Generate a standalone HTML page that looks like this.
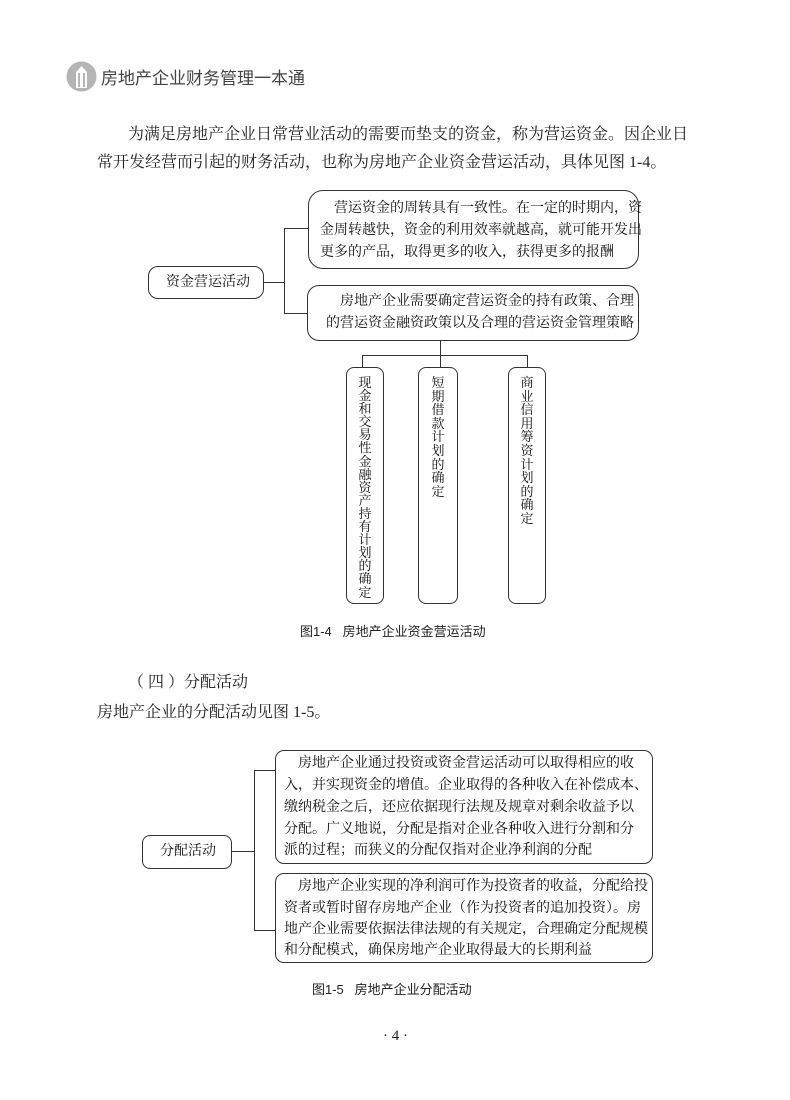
<!DOCTYPE html>
<html><head><meta charset="utf-8"><style>
*{margin:0;padding:0;box-sizing:border-box}
body{width:790px;height:1100px;background:#fff;position:relative;overflow:hidden;font-family:"Liberation Serif","Noto Serif CJK SC",serif;color:#222}
.a{position:absolute;white-space:nowrap}
.s{font-family:"Liberation Sans","Noto Sans CJK SC",sans-serif}
.box{position:absolute;border:1.3px solid #333;border-radius:10px;background:#fff}
.t{position:absolute;font-size:14px;line-height:21.5px;white-space:nowrap;font-family:"Liberation Serif","Noto Serif CJK SC",serif;color:#111}
.v{position:absolute;font-size:13px;line-height:13.6px;width:16px;white-space:normal;word-break:break-all;text-align:center;font-family:"Liberation Serif","Noto Serif CJK SC",serif;color:#111}
.l{position:absolute;background:#333}
</style></head><body>
<svg class="a" style="left:66px;top:61px" width="31" height="31" viewBox="0 0 31 31">
<circle cx="15.5" cy="15.5" r="15" fill="#b4b4b4"/>
<path d="M10 27 V11 L15.5 5 L21 11 V27 Z" fill="#fff"/>
<rect x="12" y="12" width="2" height="14" fill="#b4b4b4"/><rect x="17" y="12" width="2" height="14" fill="#b4b4b4"/>
</svg>
<div class="a s" style="left:101px;top:64px;font-size:17px;color:#444">房地产企业财务管理一本通</div>

<div class="a" style="left:128px;top:121px;font-size:16px">为满足房地产企业日常营业活动的需要而垫支的资金，称为营运资金。因企业日</div>
<div class="a" style="left:97px;top:149px;font-size:16px">常开发经营而引起的财务活动，也称为房地产企业资金营运活动，具体见图 1-4。</div>

<!-- diagram 1 -->
<div class="box" style="left:148px;top:266px;width:116px;height:33px"></div>
<div class="t" style="left:166px;top:272px">资金营运活动</div>
<div class="l" style="left:264px;top:282px;width:21px;height:1.3px"></div>
<div class="l" style="left:284px;top:228px;width:1.3px;height:86px"></div>
<div class="l" style="left:284px;top:228px;width:24px;height:1.3px"></div>
<div class="l" style="left:284px;top:313px;width:23px;height:1.3px"></div>
<div class="box" style="left:308px;top:190px;width:331px;height:79px;border-radius:15px"></div>
<div class="t" style="left:334px;top:198px">营运资金的周转具有一致性。在一定的时期内，资</div>
<div class="t" style="left:320px;top:220px">金周转越快，资金的利用效率就越高，就可能开发出</div>
<div class="t" style="left:320px;top:242px">更多的产品，取得更多的收入，获得更多的报酬</div>
<div class="box" style="left:307px;top:285px;width:332px;height:56px;border-radius:12px"></div>
<div class="t" style="left:340px;top:291px">房地产企业需要确定营运资金的持有政策、合理</div>
<div class="t" style="left:326px;top:313px">的营运资金融资政策以及合理的营运资金管理策略</div>
<div class="l" style="left:440px;top:341px;width:1.3px;height:27px"></div>
<div class="l" style="left:362px;top:355px;width:166px;height:1.3px"></div>
<div class="l" style="left:362px;top:355px;width:1.3px;height:13px"></div>
<div class="l" style="left:527px;top:355px;width:1.3px;height:13px"></div>
<div class="box" style="left:346px;top:367px;width:38px;height:237px;border-radius:8px"></div>
<div class="box" style="left:418px;top:367px;width:40px;height:237px;border-radius:8px"></div>
<div class="box" style="left:508px;top:367px;width:38px;height:237px;border-radius:8px"></div>
<div class="v" style="left:357px;top:376px;line-height:13.1px">现金和交易性金融资产持有计划的确定</div>
<div class="v" style="left:430px;top:376px">短期借款计划的确定</div>
<div class="v" style="left:519px;top:376px">商业信用筹资计划的确定</div>
<div class="a s" style="left:300px;top:621px;font-size:13px">图1-4&nbsp;&nbsp;&nbsp;房地产企业资金营运活动</div>

<div class="a" style="left:128px;top:669px;font-size:16px">（ 四 ）分配活动</div>
<div class="a" style="left:97px;top:699px;font-size:16px">房地产企业的分配活动见图 1-5。</div>

<!-- diagram 2 -->
<div class="box" style="left:142px;top:835px;width:90px;height:34px;border-radius:8px"></div>
<div class="t" style="left:160px;top:841px">分配活动</div>
<div class="l" style="left:232px;top:851px;width:23px;height:1.3px"></div>
<div class="l" style="left:254px;top:770px;width:1.3px;height:161px"></div>
<div class="l" style="left:254px;top:770px;width:21px;height:1.3px"></div>
<div class="l" style="left:254px;top:930px;width:21px;height:1.3px"></div>
<div class="box" style="left:275px;top:750px;width:378px;height:114px;border-radius:9px"></div>
<div class="t" style="left:298px;top:753px">房地产企业通过投资或资金营运活动可以取得相应的收</div>
<div class="t" style="left:284px;top:775px">入，并实现资金的增值。企业取得的各种收入在补偿成本、</div>
<div class="t" style="left:284px;top:797px">缴纳税金之后，还应依据现行法规及规章对剩余收益予以</div>
<div class="t" style="left:284px;top:819px">分配。广义地说，分配是指对企业各种收入进行分割和分</div>
<div class="t" style="left:284px;top:840px">派的过程；而狭义的分配仅指对企业净利润的分配</div>
<div class="box" style="left:275px;top:873px;width:378px;height:90px;border-radius:9px"></div>
<div class="t" style="left:298px;top:876px">房地产企业实现的净利润可作为投资者的收益，分配给投</div>
<div class="t" style="left:284px;top:898px">资者或暂时留存房地产企业（作为投资者的追加投资）。房</div>
<div class="t" style="left:284px;top:919px">地产企业需要依据法律法规的有关规定，合理确定分配规模</div>
<div class="t" style="left:284px;top:940px">和分配模式，确保房地产企业取得最大的长期利益</div>
<div class="a s" style="left:312px;top:979px;font-size:13px">图1-5&nbsp;&nbsp;&nbsp;房地产企业分配活动</div>

<div class="a" style="left:383px;top:1028px;font-size:15px">· 4 ·</div>
</body></html>
